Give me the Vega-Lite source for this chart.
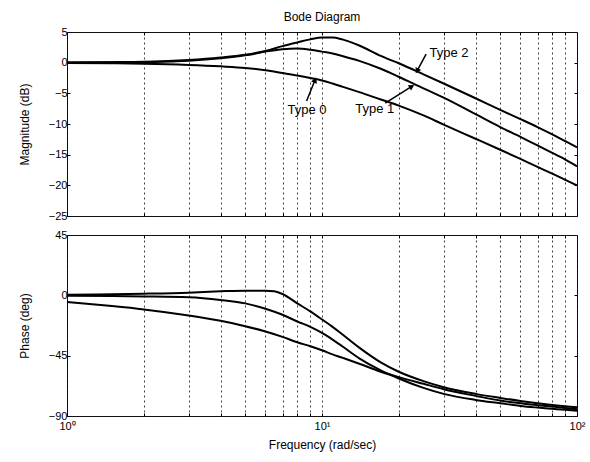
{
  "$schema": "https://vega.github.io/schema/vega-lite/v6.json",
  "padding": {"left": 17, "top": 10, "right": 5, "bottom": 2},
  "background": "#ffffff",
  "spacing": 6,
  "config": {
    "font": "Liberation Sans",
    "view": {"stroke": "#111111", "strokeWidth": 1},
    "axis": {
      "labelFont": "Liberation Sans",
      "titleFont": "Liberation Sans",
      "labelFontSize": 11,
      "titleFontSize": 12,
      "titleFontWeight": "normal",
      "labelColor": "#000000",
      "titleColor": "#000000",
      "labelOverlap": false,
      "domain": false,
      "tickColor": "#000000",
      "gridColor": "#000000",
      "gridDash": [2, 3],
      "gridOpacity": 0.75,
      "gridWidth": 1
    }
  },
  "datasets": {
    "mag": [
      {"w": 1, "s": "Type 0", "v": -0.04}, {"w": 1.5, "s": "Type 0", "v": -0.1}, {"w": 2, "s": "Type 0", "v": -0.17}, {"w": 3, "s": "Type 0", "v": -0.37}, {"w": 4, "s": "Type 0", "v": -0.6}, {"w": 5, "s": "Type 0", "v": -0.85}, {"w": 6, "s": "Type 0", "v": -1.25}, {"w": 7, "s": "Type 0", "v": -1.7}, {"w": 8, "s": "Type 0", "v": -2.1}, {"w": 9, "s": "Type 0", "v": -2.5}, {"w": 10, "s": "Type 0", "v": -2.9}, {"w": 11, "s": "Type 0", "v": -3.4}, {"w": 12, "s": "Type 0", "v": -3.9}, {"w": 14, "s": "Type 0", "v": -4.8}, {"w": 17, "s": "Type 0", "v": -6.0}, {"w": 20, "s": "Type 0", "v": -7.0}, {"w": 25, "s": "Type 0", "v": -8.6}, {"w": 30, "s": "Type 0", "v": -10.1}, {"w": 40, "s": "Type 0", "v": -12.4}, {"w": 50, "s": "Type 0", "v": -14.2}, {"w": 60, "s": "Type 0", "v": -15.7}, {"w": 70, "s": "Type 0", "v": -17.0}, {"w": 80, "s": "Type 0", "v": -18.1}, {"w": 90, "s": "Type 0", "v": -19.1}, {"w": 100, "s": "Type 0", "v": -20.0},
      {"w": 1, "s": "Type 1", "v": 0.02}, {"w": 1.5, "s": "Type 1", "v": 0.05}, {"w": 2, "s": "Type 1", "v": 0.1}, {"w": 3, "s": "Type 1", "v": 0.3}, {"w": 4, "s": "Type 1", "v": 0.7}, {"w": 5, "s": "Type 1", "v": 1.2}, {"w": 6, "s": "Type 1", "v": 1.8}, {"w": 7, "s": "Type 1", "v": 2.2}, {"w": 8, "s": "Type 1", "v": 2.3}, {"w": 9, "s": "Type 1", "v": 2.1}, {"w": 10, "s": "Type 1", "v": 1.8}, {"w": 11, "s": "Type 1", "v": 1.5}, {"w": 12, "s": "Type 1", "v": 1.1}, {"w": 14, "s": "Type 1", "v": 0.3}, {"w": 17, "s": "Type 1", "v": -1.0}, {"w": 20, "s": "Type 1", "v": -2.3}, {"w": 25, "s": "Type 1", "v": -4.2}, {"w": 30, "s": "Type 1", "v": -5.7}, {"w": 40, "s": "Type 1", "v": -8.4}, {"w": 50, "s": "Type 1", "v": -10.5}, {"w": 60, "s": "Type 1", "v": -12.1}, {"w": 70, "s": "Type 1", "v": -13.5}, {"w": 80, "s": "Type 1", "v": -14.7}, {"w": 90, "s": "Type 1", "v": -15.8}, {"w": 100, "s": "Type 1", "v": -16.9},
      {"w": 1, "s": "Type 2", "v": 0.03}, {"w": 1.5, "s": "Type 2", "v": 0.08}, {"w": 2, "s": "Type 2", "v": 0.15}, {"w": 3, "s": "Type 2", "v": 0.45}, {"w": 4, "s": "Type 2", "v": 0.85}, {"w": 5, "s": "Type 2", "v": 1.3}, {"w": 6, "s": "Type 2", "v": 1.9}, {"w": 7, "s": "Type 2", "v": 2.7}, {"w": 8, "s": "Type 2", "v": 3.3}, {"w": 9, "s": "Type 2", "v": 3.8}, {"w": 10, "s": "Type 2", "v": 4.1}, {"w": 11, "s": "Type 2", "v": 4.1}, {"w": 12, "s": "Type 2", "v": 3.8}, {"w": 14, "s": "Type 2", "v": 2.8}, {"w": 17, "s": "Type 2", "v": 1.1}, {"w": 20, "s": "Type 2", "v": -0.1}, {"w": 25, "s": "Type 2", "v": -1.9}, {"w": 30, "s": "Type 2", "v": -3.4}, {"w": 40, "s": "Type 2", "v": -5.8}, {"w": 50, "s": "Type 2", "v": -7.7}, {"w": 60, "s": "Type 2", "v": -9.2}, {"w": 70, "s": "Type 2", "v": -10.5}, {"w": 80, "s": "Type 2", "v": -11.7}, {"w": 90, "s": "Type 2", "v": -12.8}, {"w": 100, "s": "Type 2", "v": -13.8}
    ],
    "phase": [
      {"w": 1, "s": "Type 0", "v": -5}, {"w": 1.5, "s": "Type 0", "v": -8}, {"w": 2, "s": "Type 0", "v": -10.5}, {"w": 3, "s": "Type 0", "v": -15}, {"w": 4, "s": "Type 0", "v": -19}, {"w": 5, "s": "Type 0", "v": -23}, {"w": 6, "s": "Type 0", "v": -27}, {"w": 7, "s": "Type 0", "v": -31}, {"w": 8, "s": "Type 0", "v": -35}, {"w": 9, "s": "Type 0", "v": -38}, {"w": 10, "s": "Type 0", "v": -41}, {"w": 11, "s": "Type 0", "v": -44}, {"w": 12, "s": "Type 0", "v": -46.5}, {"w": 14, "s": "Type 0", "v": -51}, {"w": 17, "s": "Type 0", "v": -57}, {"w": 20, "s": "Type 0", "v": -61}, {"w": 25, "s": "Type 0", "v": -66}, {"w": 30, "s": "Type 0", "v": -70}, {"w": 40, "s": "Type 0", "v": -75}, {"w": 50, "s": "Type 0", "v": -78.5}, {"w": 60, "s": "Type 0", "v": -80.5}, {"w": 70, "s": "Type 0", "v": -82}, {"w": 80, "s": "Type 0", "v": -83}, {"w": 90, "s": "Type 0", "v": -84}, {"w": 100, "s": "Type 0", "v": -85},
      {"w": 1, "s": "Type 1", "v": -0.3}, {"w": 1.5, "s": "Type 1", "v": -0.5}, {"w": 2, "s": "Type 1", "v": -0.8}, {"w": 3, "s": "Type 1", "v": -1.5}, {"w": 4, "s": "Type 1", "v": -3.5}, {"w": 5, "s": "Type 1", "v": -6}, {"w": 6, "s": "Type 1", "v": -10}, {"w": 7, "s": "Type 1", "v": -14.5}, {"w": 8, "s": "Type 1", "v": -19.5}, {"w": 9, "s": "Type 1", "v": -23.5}, {"w": 10, "s": "Type 1", "v": -28}, {"w": 11, "s": "Type 1", "v": -33}, {"w": 12, "s": "Type 1", "v": -38}, {"w": 14, "s": "Type 1", "v": -47}, {"w": 17, "s": "Type 1", "v": -56}, {"w": 20, "s": "Type 1", "v": -62}, {"w": 25, "s": "Type 1", "v": -69}, {"w": 30, "s": "Type 1", "v": -73.5}, {"w": 40, "s": "Type 1", "v": -78}, {"w": 50, "s": "Type 1", "v": -80.5}, {"w": 60, "s": "Type 1", "v": -82.5}, {"w": 70, "s": "Type 1", "v": -83.7}, {"w": 80, "s": "Type 1", "v": -84.6}, {"w": 90, "s": "Type 1", "v": -85.4}, {"w": 100, "s": "Type 1", "v": -86},
      {"w": 1, "s": "Type 2", "v": 0.5}, {"w": 1.5, "s": "Type 2", "v": 0.8}, {"w": 2, "s": "Type 2", "v": 1.2}, {"w": 3, "s": "Type 2", "v": 2}, {"w": 4, "s": "Type 2", "v": 3}, {"w": 5, "s": "Type 2", "v": 3.5}, {"w": 6, "s": "Type 2", "v": 3.5}, {"w": 6.5, "s": "Type 2", "v": 3}, {"w": 7, "s": "Type 2", "v": 1}, {"w": 8, "s": "Type 2", "v": -6}, {"w": 9, "s": "Type 2", "v": -12}, {"w": 10, "s": "Type 2", "v": -18}, {"w": 11, "s": "Type 2", "v": -23.5}, {"w": 12, "s": "Type 2", "v": -29}, {"w": 14, "s": "Type 2", "v": -39}, {"w": 17, "s": "Type 2", "v": -50}, {"w": 20, "s": "Type 2", "v": -57}, {"w": 25, "s": "Type 2", "v": -64}, {"w": 30, "s": "Type 2", "v": -68.5}, {"w": 40, "s": "Type 2", "v": -73.5}, {"w": 50, "s": "Type 2", "v": -76.5}, {"w": 60, "s": "Type 2", "v": -78.8}, {"w": 70, "s": "Type 2", "v": -80.5}, {"w": 80, "s": "Type 2", "v": -81.8}, {"w": 90, "s": "Type 2", "v": -82.8}, {"w": 100, "s": "Type 2", "v": -83.5}
    ],
    "labels": [
      {"s": "Type 0", "w": 8.74, "v": -7.7},
      {"s": "Type 1", "w": 16.1, "v": -7.5},
      {"s": "Type 2", "w": 31.5, "v": 1.6}
    ],
    "arrows": [
      {"s": "Type 0", "w1": 8.7, "d1": -6.25, "w2": 9.39, "d2": -2.82},
      {"s": "Type 1", "w1": 17.7, "d1": -6.58, "w2": 22.5, "d2": -3.88},
      {"s": "Type 2", "w1": 25.6, "d1": 1.4, "w2": 23.6, "d2": -1.35}
    ]
  },
  "vconcat": [
    {
      "width": 510,
      "height": 184,
      "title": {"text": "Bode Diagram", "fontSize": 12, "fontWeight": "normal", "font": "Liberation Sans", "color": "#000000", "anchor": "middle", "frame": "group", "offset": 2},
      "resolve": {"axis": {"x": "independent", "y": "independent"}},
      "layer": [
        {
          "data": {"name": "mag"},
          "mark": {"type": "line", "color": "#000000", "strokeWidth": 2, "interpolate": "monotone"},
          "encoding": {
            "x": {"field": "w", "type": "quantitative", "scale": {"type": "log", "domain": [1, 100], "nice": false},
                  "axis": {"title": null, "labels": false, "values": [1,2,3,4,5,6,7,8,9,10,20,30,40,50,60,70,80,90,100], "grid": true, "tickSize": -3}},
            "y": {"field": "v", "type": "quantitative", "scale": {"domain": [-25, 5], "nice": false, "zero": false},
                  "axis": {"title": "Magnitude (dB)", "values": [-25,-20,-15,-10,-5,0,5], "labelOverlap": false, "grid": false, "tickSize": -3, "labelPadding": 3, "minExtent": 20, "maxExtent": 20, "titlePadding": 16}},
            "detail": {"field": "s"}
          }
        },
        {
          "data": {"name": "arrows"},
          "mark": {"type": "rule", "color": "#000000", "strokeWidth": 1.5},
          "encoding": {
            "x": {"field": "w1", "type": "quantitative", "axis": {"orient": "top", "title": null, "labels": false, "grid": false, "values": [2,3,4,5,6,7,8,9,10,20,30,40,50,60,70,80,90], "tickSize": -3}},
            "y": {"field": "d1", "type": "quantitative", "axis": {"orient": "right", "title": null, "labels": false, "grid": false, "values": [-20,-15,-10,-5,0], "tickSize": -3}},
            "x2": {"field": "w2"},
            "y2": {"field": "d2"}
          }
        },
        {
          "data": {"name": "arrows"},
          "transform": [{"filter": "datum.s == 'Type 0'"}],
          "mark": {"type": "point", "shape": "triangle-up", "filled": true, "color": "#000000", "opacity": 1, "size": 40, "angle": 21},
          "encoding": {"x": {"field": "w2", "type": "quantitative", "axis": null}, "y": {"field": "d2", "type": "quantitative", "axis": null}}
        },
        {
          "data": {"name": "arrows"},
          "transform": [{"filter": "datum.s == 'Type 1'"}],
          "mark": {"type": "point", "shape": "triangle-up", "filled": true, "color": "#000000", "opacity": 1, "size": 40, "angle": 59},
          "encoding": {"x": {"field": "w2", "type": "quantitative", "axis": null}, "y": {"field": "d2", "type": "quantitative", "axis": null}}
        },
        {
          "data": {"name": "arrows"},
          "transform": [{"filter": "datum.s == 'Type 2'"}],
          "mark": {"type": "point", "shape": "triangle-up", "filled": true, "color": "#000000", "opacity": 1, "size": 40, "angle": 208},
          "encoding": {"x": {"field": "w2", "type": "quantitative", "axis": null}, "y": {"field": "d2", "type": "quantitative", "axis": null}}
        },
        {
          "data": {"name": "labels"},
          "mark": {"type": "text", "font": "Liberation Sans", "fontSize": 13, "color": "#000000", "align": "center", "baseline": "middle"},
          "encoding": {
            "x": {"field": "w", "type": "quantitative", "axis": null},
            "y": {"field": "v", "type": "quantitative", "axis": null},
            "text": {"field": "s"}
          }
        }
      ]
    },
    {
      "width": 510,
      "height": 181,
      "data": {"name": "phase"},
      "resolve": {"axis": {"x": "independent", "y": "independent"}},
      "layer": [
        {
          "mark": {"type": "line", "color": "#000000", "strokeWidth": 2, "interpolate": "monotone"},
          "encoding": {
            "x": {"field": "w", "type": "quantitative", "scale": {"type": "log", "domain": [1, 100], "nice": false},
                  "axis": {"title": "Frequency (rad/sec)", "values": [1,2,3,4,5,6,7,8,9,10,20,30,40,50,60,70,80,90,100], "grid": true, "tickSize": -3, "labelFlush": false, "labelPadding": 7, "titlePadding": 8,
                           "labelExpr": "datum.value == 1 ? '10⁰' : datum.value == 10 ? '10¹' : datum.value == 100 ? '10²' : ''"}},
            "y": {"field": "v", "type": "quantitative", "scale": {"domain": [-90, 45], "nice": false, "zero": false},
                  "axis": {"title": "Phase (deg)", "values": [-90, -45, 0, 45], "labelOverlap": false, "grid": false, "tickSize": -3, "labelPadding": 3, "minExtent": 20, "maxExtent": 20, "titlePadding": 16}},
            "detail": {"field": "s"}
          }
        },
        {
          "mark": {"type": "point", "opacity": 0, "size": 1},
          "encoding": {
            "x": {"field": "w", "type": "quantitative", "axis": {"orient": "top", "title": null, "labels": false, "grid": false, "values": [2,3,4,5,6,7,8,9,10,20,30,40,50,60,70,80,90], "tickSize": -3}},
            "y": {"field": "v", "type": "quantitative", "axis": {"orient": "right", "title": null, "labels": false, "grid": false, "values": [-45, 0], "tickSize": -3}}
          }
        }
      ]
    }
  ]
}
